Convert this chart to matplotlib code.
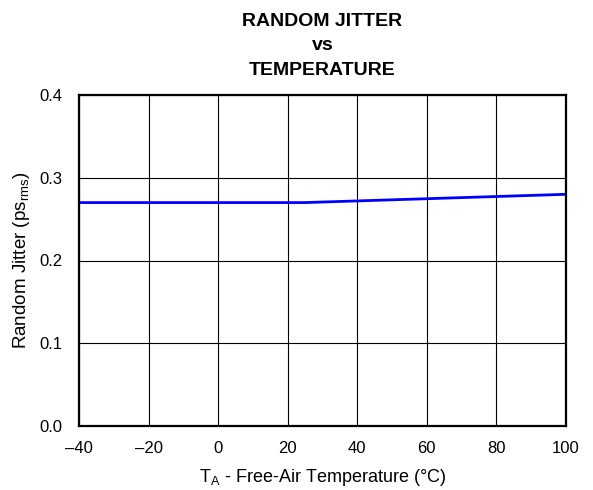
import matplotlib
matplotlib.use("Agg")
import matplotlib.pyplot as plt

plt.rcParams['font.family'] = ['Liberation Sans', 'DejaVu Sans']

# data
temp_c = [-40, 25, 100]
jitter_ps = [0.27, 0.27, 0.28]
x_ticks = [-40, -20, 0, 20, 40, 60, 80, 100]
x_labels = ['\u201340', '\u201320', '0', '20', '40', '60', '80', '100']
y_ticks = [0.0, 0.1, 0.2, 0.3, 0.4]

fig = plt.figure(figsize=(5.93, 4.9), dpi=100)
ax = fig.add_axes([79 / 593, 1 - 426 / 490, 487 / 593, 331 / 490])

ax.plot(temp_c, jitter_ps, color='#0000ff', lw=2)

ax.set_xlim(-40, 100)
ax.set_ylim(0, 0.4)
ax.set_xticks(x_ticks)
ax.set_xticklabels(x_labels)
ax.set_yticks(y_ticks)
ax.set_yticklabels([f"{v:.1f}" for v in y_ticks])
ax.tick_params(length=0, labelsize=12)
ax.tick_params(axis='x', pad=11)
ax.tick_params(axis='y', pad=12)
ax.grid(True, color='black', lw=0.8)
for s in ax.spines.values():
    s.set_linewidth(1.6)

ax.set_xlabel('T$_\\mathregular{A}$ - Free-Air Temperature (\u00b0C)', fontsize=13, labelpad=8)
ax.set_ylabel('Random Jitter (ps$_\\mathregular{rms}$)', fontsize=13.5, labelpad=5)
fig.text((79 + 566) / 2 / 593, 1 - 46 / 490, 'RANDOM JITTER\nvs\nTEMPERATURE', ha='center', va='center',
         fontsize=14, fontweight='bold', linespacing=1.6)

fig.savefig('out.png', dpi=100)
